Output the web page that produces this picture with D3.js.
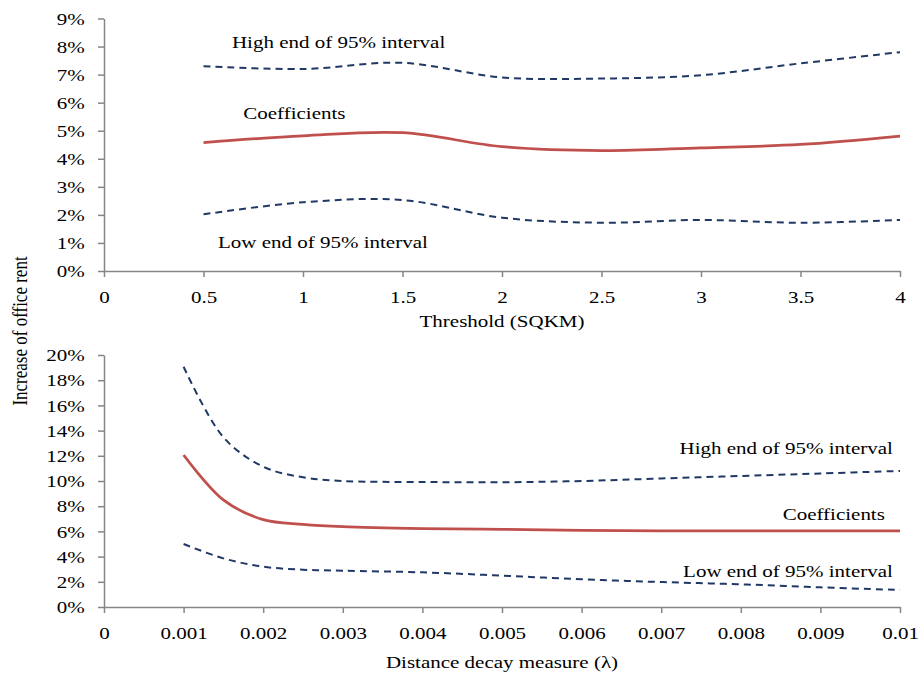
<!DOCTYPE html>
<html>
<head>
<meta charset="utf-8">
<script src="https://cdnjs.cloudflare.com/ajax/libs/d3/7.8.5/d3.min.js"></script>
<style>
  body { margin: 0; background: #fff; }
  svg text { font-family: "Liberation Serif", "Times New Roman", serif; fill: #000; }
  .axis .domain, .axis .tick line { stroke: #868686; stroke-width: 1.5; }
</style>
</head>
<body>
<svg id="chart"></svg>
<script>
//! DATA (values in %)
const thresholds = [0.5, 1, 1.5, 2, 2.5, 3, 3.5, 4]
const thrHigh = [7.3, 7.2, 7.42, 6.9, 6.86, 6.98, 7.4, 7.8]
const thrCoef = [4.58, 4.82, 4.93, 4.43, 4.29, 4.39, 4.51, 4.81]
const thrLow = [2.02, 2.45, 2.53, 1.9, 1.72, 1.82, 1.72, 1.82]
const thrTicksX = [0, 0.5, 1, 1.5, 2, 2.5, 3, 3.5, 4]
const thrTicksY = [0, 1, 2, 3, 4, 5, 6, 7, 8, 9]

const decay = [0.001, 0.0015, 0.002, 0.0025, 0.003, 0.004, 0.005, 0.006, 0.007, 0.008, 0.009, 0.01]
const decHigh = [19.07, 13.47, 11.14, 10.29, 10.0, 9.92, 9.9, 10.0, 10.2, 10.4, 10.6, 10.8]
const decCoef = [12.06, 8.5, 6.93, 6.56, 6.37, 6.22, 6.16, 6.08, 6.05, 6.05, 6.05, 6.05]
const decLow = [5.0, 3.86, 3.2, 2.96, 2.88, 2.75, 2.49, 2.2, 1.98, 1.8, 1.56, 1.35]
const decTicksX = [0, 0.001, 0.002, 0.003, 0.004, 0.005, 0.006, 0.007, 0.008, 0.009, 0.01]
const decTicksY = [0, 2, 4, 6, 8, 10, 12, 14, 16, 18, 20]

//! CONSTS
const WIDTH = 920
const HEIGHT = 675
const LEFT = 104
const RIGHT = 900
const FONT = 17.5
const STRETCH = 1.2 // the picture's text is a bit wider than plain Times
const RED = '#c0504d'
const NAVY = '#1f3864'

const svg = d3.select('#chart')
  .attr('width', WIDTH)
  .attr('height', HEIGHT)

function label(g, text, x, y, anchor) {
  g.append('text')
    .attr('text-anchor', anchor || 'start')
    .attr('font-size', FONT)
    .attr('transform', `translate(${x},${y}) scale(${STRETCH},1)`)
    .text(text)
}

function panel(o) {
  const x = d3.scaleLinear().domain(o.xDomain).range([LEFT, RIGHT])
  const y = d3.scaleLinear().domain(o.yDomain).range([o.bottom, o.top])
  const g = svg.append('g')

  // axes
  g.append('g')
    .attr('class', 'axis')
    .attr('transform', `translate(0,${o.bottom})`)
    .call(d3.axisBottom(x).tickValues(o.ticksX).tickFormat(d => String(d))
      .tickSize(6).tickSizeOuter(0).tickPadding(14))
  g.append('g')
    .attr('class', 'axis')
    .attr('transform', `translate(${LEFT},0)`)
    .call(d3.axisLeft(y).tickValues(o.ticksY).tickFormat(d => d + '%')
      .tickSize(6).tickSizeOuter(0).tickPadding(10))
  g.selectAll('.axis text')
    .attr('font-size', FONT)
    .attr('font-family', null)
    .attr('transform', `scale(${STRETCH},1)`)

  const line = d3.line()
    .x(d => x(d[0]))
    .y(d => y(d[1]))
    .curve(o.curve)

  const pairs = vals => o.xs.map((v, i) => [v, vals[i]])

  // dashed interval lines
  ;[o.high, o.low].forEach(vals => {
    g.append('path')
      .datum(pairs(vals))
      .attr('fill', 'none')
      .attr('stroke', NAVY)
      .attr('stroke-width', 2)
      .attr('stroke-dasharray', '7,5')
      .attr('d', line)
  })
  g.append('path')
    .datum(pairs(o.coef))
    .attr('fill', 'none')
    .attr('stroke', RED)
    .attr('stroke-width', 2.75)
    .attr('d', line)

  o.labels.forEach(l => label(g, l.text, x(l.at[0]), y(l.at[1]), l.anchor))
  label(g, o.title, (LEFT + RIGHT) / 2, o.titleY, 'middle')
}

panel({
  xDomain: [0, 4], yDomain: [0, 9], top: 18.5, bottom: 271,
  ticksX: thrTicksX, ticksY: thrTicksY, curve: d3.curveCardinal,
  xs: thresholds, high: thrHigh, coef: thrCoef, low: thrLow,
  title: 'Threshold (SQKM)', titleY: 327,
  labels: [
    { text: 'High end of 95% interval', at: [0.643, 7.94] },
    { text: 'Coefficients', at: [0.70, 5.41] },
    { text: 'Low end of 95% interval', at: [0.573, 0.82] }
  ]
})

panel({
  xDomain: [0, 0.01], yDomain: [0, 20], top: 355, bottom: 607,
  ticksX: decTicksX, ticksY: decTicksY, curve: d3.curveCatmullRom,
  xs: decay, high: decHigh, coef: decCoef, low: decLow,
  title: 'Distance decay measure (λ)', titleY: 668,
  labels: [
    { text: 'High end of 95% interval', at: [0.00991, 12.14], anchor: 'end' },
    { text: 'Coefficients', at: [0.00981, 6.9], anchor: 'end' },
    { text: 'Low end of 95% interval', at: [0.00991, 2.38], anchor: 'end' }
  ]
})

// shared y title
svg.append('text')
  .attr('text-anchor', 'middle')
  .attr('font-size', 17)
  .attr('transform', `translate(27,331) rotate(-90) scale(1,${STRETCH})`)
  .text('Increase of office rent')
</script>
</body>
</html>
